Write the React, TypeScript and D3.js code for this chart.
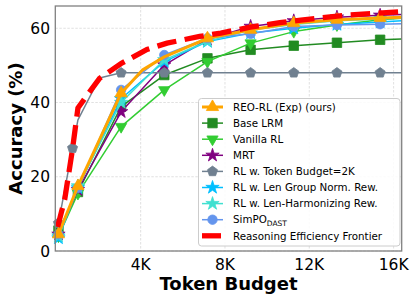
import React from "react";
import * as d3 from "d3";

const W = 419;
const H = 302;

// Token budgets (x values)
const budgets = [100, 1024, 3072, 5120, 7168, 9216, 11264, 13312, 15360, 16384];
const reoX = [100, 1024, 3072, 4096, 5120, 7168, 9216, 11264, 13312, 15360, 16384];
const grayX = [100, 768, 1024, 2048, 3072, 5120, 7168, 9216, 11264, 13312, 15360, 16384];
const frontierX = [60, 400, 768, 1024, 1400, 2048, 3072, 4300, 5250, 6800, 7800, 9200, 10600, 11600, 13700, 15100, 16384];

// Accuracy values (%)
const reoRL = [4.5, 17.5, 42.5, 48.8, 52.3, 57.3, 59.6, 61.4, 62.3, 62.8, 63.0];
const baseLRM = [5.5, 15.9, 38.9, 47.4, 51.9, 54.2, 55.3, 56.1, 56.9, 57.1];
const vanillaRL = [4.0, 15.5, 33.5, 43.4, 51.0, 56.0, 59.1, 60.9, 62.3, 62.7];
const mrt = [4.5, 16.5, 37.5, 50.1, 57.0, 60.5, 62.0, 63.0, 63.5, 63.7];
const tokenBudget2K = [7.5, 27.7, 35.3, 46.6, 48.0, 48.0, 48.0, 48.0, 48.0, 48.0, 48.0, 48.0];
const lenGroupNorm = [3.5, 17.0, 41.0, 51.0, 56.4, 58.7, 60.0, 61.0, 61.7, 62.0];
const lenHarmonizing = [4.0, 17.5, 40.0, 51.5, 56.5, 59.5, 61.0, 62.0, 62.5, 62.8];
const simpoDast = [4.5, 17.0, 43.4, 52.8, 57.3, 58.5, 60.5, 60.9, 61.1, 61.2];
const frontier = [6.5, 14.0, 27.5, 38.5, 41.5, 46.5, 50.5, 54.3, 56.0, 57.8, 58.7, 60.3, 61.5, 62.2, 63.5, 64.0, 64.5];

const xTickValues = [4000, 8000, 12000, 16000];
const xTickLabels = ["4K", "8K", "12K", "16K"];
const yTickValues = [0, 20, 40, 60];

type MarkerKind = "triUp" | "triDown" | "square" | "star" | "pentagon" | "circle";

interface Series {
  name: string;
  x: number[];
  y: number[];
  color: string;
  width: number;
  marker: MarkerKind;
  msize: number;
  noMarkAt: number[];
}

const pentagonPath = (r: number) => {
  const pts: string[] = [];
  for (let i = 0; i < 5; i++) {
    const a = -Math.PI / 2 + (i * 2 * Math.PI) / 5;
    pts.push(`${(r * Math.cos(a)).toFixed(2)},${(r * Math.sin(a)).toFixed(2)}`);
  }
  return "M" + pts.join("L") + "Z";
};

const markerPath = (kind: MarkerKind, size: number): string => {
  switch (kind) {
    case "triUp":
    case "triDown":
      return d3.symbol().type(d3.symbolTriangle).size(size)() as string;
    case "square":
      return d3.symbol().type(d3.symbolSquare).size(size)() as string;
    case "star":
      return d3.symbol().type(d3.symbolStar).size(size)() as string;
    case "circle":
      return d3.symbol().type(d3.symbolCircle).size(size)() as string;
    case "pentagon":
      return pentagonPath(size);
  }
};

const series: Series[] = [
  { name: "Base LRM", x: budgets, y: baseLRM, color: "#228B22", width: 1.5, marker: "square", msize: 90, noMarkAt: [16384] },
  { name: "Vanilla RL", x: budgets, y: vanillaRL, color: "#32CD32", width: 1.5, marker: "triDown", msize: 55, noMarkAt: [16384] },
  { name: "MRT", x: budgets, y: mrt, color: "#800080", width: 1.5, marker: "star", msize: 55, noMarkAt: [16384] },
  { name: "RL w. Token Budget=2K", x: grayX, y: tokenBudget2K, color: "#708090", width: 1.5, marker: "pentagon", msize: 5.3, noMarkAt: [1024, 2048, 16384] },
  { name: "RL w. Len Group Norm. Rew.", x: budgets, y: lenGroupNorm, color: "#00BFFF", width: 1.5, marker: "star", msize: 55, noMarkAt: [16384] },
  { name: "RL w. Len-Harmonizing Rew.", x: budgets, y: lenHarmonizing, color: "#40E0D0", width: 1.5, marker: "star", msize: 55, noMarkAt: [16384] },
  { name: "SimPO", x: budgets, y: simpoDast, color: "#6495ED", width: 1.5, marker: "circle", msize: 70, noMarkAt: [16384] },
  { name: "REO-RL (Exp) (ours)", x: reoX, y: reoRL, color: "#FFA500", width: 3, marker: "triUp", msize: 65, noMarkAt: [4096, 5120, 16384] },
];

const legendOrder = [
  "REO-RL (Exp) (ours)",
  "Base LRM",
  "Vanilla RL",
  "MRT",
  "RL w. Token Budget=2K",
  "RL w. Len Group Norm. Rew.",
  "RL w. Len-Harmonizing Rew.",
  "SimPO",
];

const FONT = "DejaVu Sans, sans-serif";

export default function App() {
  const left = 55.3, right = 401.7, top = 6, bottom = 251;
  const x = d3.scaleLinear().domain([-50, 16384]).range([left, right]);
  const y = d3.scaleLinear().domain([0, 66]).range([bottom, top]);
  const line = d3
    .line<number>()
    .x((_, i) => 0)
    .y(() => 0);

  const pathFor = (xs: number[], ys: number[]) =>
    d3
      .line<number>()
      .x((d) => x(d))
      .y((_, i) => y(ys[i]))(xs) as string;

  const renderMarker = (s: Series, cx: number, cy: number, key: string) => (
    <path
      key={key}
      d={markerPath(s.marker, s.msize)}
      transform={`translate(${cx},${cy})${s.marker === "triDown" ? " rotate(180)" : ""}`}
      fill={s.color}
      stroke={s.color}
      strokeWidth={0.8}
    />
  );

  const legRow0 = 107;
  const legStep = 16.1;

  return (
    <svg width={W} height={H} style={{ position: "absolute", left: 0, top: 0 }} fontFamily={FONT}>
      <rect x={0} y={0} width={W} height={H} fill="white" />
      {/* grid */}
      {xTickValues.map((t) => (
        <line key={"gx" + t} x1={x(t)} x2={x(t)} y1={top} y2={bottom} stroke="#d9d9d9" strokeWidth={0.8} strokeDasharray="2.5,1.5" />
      ))}
      {yTickValues.map((t) => (
        <line key={"gy" + t} x1={left} x2={right} y1={y(t)} y2={y(t)} stroke="#d9d9d9" strokeWidth={0.8} strokeDasharray="2.5,1.5" />
      ))}
      {/* series */}
      {series.map((s) => (
        <g key={s.name}>
          <path d={pathFor(s.x, s.y)} fill="none" stroke={s.color} strokeWidth={s.width} strokeLinejoin="round" />
          {s.x.map((xv, i) =>
            s.noMarkAt.includes(xv) ? null : renderMarker(s, x(xv), y(s.y[i]), s.name + i)
          )}
        </g>
      ))}
      {/* frontier */}
      <path d={pathFor(frontierX, frontier)} fill="none" stroke="#FF0000" strokeWidth={5.3} strokeDasharray="19.5,8.5" />
      {/* frame */}
      <rect x={left} y={top} width={right - left} height={bottom - top} fill="none" stroke="#808080" strokeWidth={1.3} />
      {/* ticks labels */}
      {xTickValues.map((t, i) => (
        <text key={"xl" + t} x={x(t)} y={270} textAnchor="middle" fontSize={15.5} fill="#000">
          {xTickLabels[i]}
        </text>
      ))}
      {yTickValues.map((t) => (
        <text key={"yl" + t} x={50} y={y(t)} dy="0.36em" textAnchor="end" fontSize={15.5} fill="#000">
          {t}
        </text>
      ))}
      {/* axis titles */}
      <text x={(left + right) / 2} y={290} textAnchor="middle" fontSize={18} fontWeight="bold">
        Token Budget
      </text>
      <text transform={`translate(22,${(top + bottom) / 2}) rotate(-90)`} textAnchor="middle" fontSize={18} fontWeight="bold">
        Accuracy (%)
      </text>
      {/* legend */}
      <rect x={198.5} y={98.5} width={201.5} height={147.5} rx={3} fill="white" fillOpacity={0.85} stroke="#cccccc" strokeWidth={1} />
      {legendOrder.map((nm, i) => {
        const s = series.find((q) => q.name === nm)!;
        const cy = legRow0 + i * legStep;
        return (
          <g key={"lg" + nm}>
            <line x1={202} x2={223} y1={cy} y2={cy} stroke={s.color} strokeWidth={s.width} />
            {renderMarker(s, 212.5, cy, "lm" + i)}
            <text x={233} y={cy} dy="0.36em" fontSize={10.3} fill="#000">
              {nm === "SimPO" ? (
                <>
                  SimPO
                  <tspan fontSize={7.5} dy="2.5">DAST</tspan>
                </>
              ) : (
                nm
              )}
            </text>
          </g>
        );
      })}
      <line x1={202} x2={221} y1={legRow0 + 8 * legStep} y2={legRow0 + 8 * legStep} stroke="#FF0000" strokeWidth={5.3} />
      <text x={233} y={legRow0 + 8 * legStep} dy="0.36em" fontSize={10.3} fill="#000">
        Reasoning Efficiency Frontier
      </text>
    </svg>
  );
}
